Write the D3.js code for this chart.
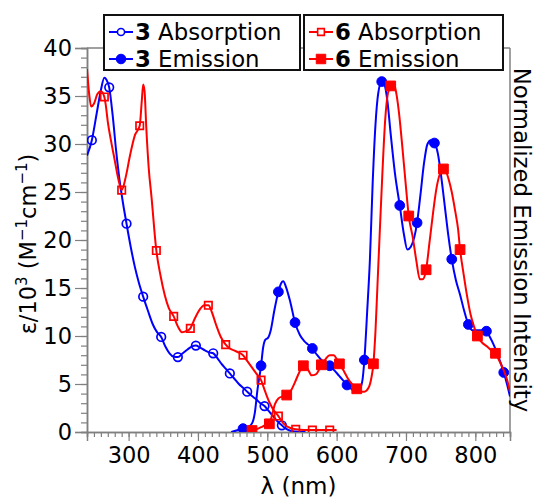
<!DOCTYPE html>
<html>
<head>
<meta charset="utf-8">
<script src="https://cdn.jsdelivr.net/npm/d3@7"></script>
<style>
  body { margin: 0; background: #fff; }
  text { font-family: "DejaVu Sans", sans-serif; }
</style>
</head>
<body>
<div id="chart"></div>
<script>
// wavelength (nm) vs value
var abs3 = [[240,28.8],[247,30.4],[254,33.2],[260,35.6],[265,36.9],[268,36.7],[272,35.9],[277,33],[282,29.3],[287,26.2],[292,23.8],[297,21.7],[303,19.3],[309,17.2],[315,15.5],[321,14.1],[328,12.6],[335,11.2],[341,10.4],[347,9.9],[353,8.9],[359,8.2],[365,7.85],[371,7.8],[378,8.2],[385,8.6],[391,8.9],[397,9.0],[403,8.8],[410,8.5],[416,8.3],[422,8.2],[428,7.7],[434,7.1],[440,6.6],[446,6.1],[452,5.6],[459,5.0],[465,4.6],[471,4.2],[477,3.8],[484,3.4],[490,3.0],[496,2.7],[502,2.2],[509,1.6],[515,1.1],[521,0.7],[528,0.3],[535,0.1],[545,0.02],[555,0]];
var abs3Marks = [247,272,297,321,347,371,397,422,446,471,496,521];

var em3 = [[448,0],[458,0.2],[465,0.35],[472,0.5],[478,0.9],[482,2.0],[486,4.5],[491,6.9],[494,8.8],[497,9.6],[501,9.8],[505,10.6],[510,12.6],[516,14.6],[520,15.5],[523,15.7],[527,15.1],[533,13.6],[540,11.4],[547,10.1],[553,9.5],[559,9.1],[565,8.7],[571,8.1],[578,7.5],[584,7.2],[590,6.9],[597,6.4],[603,5.9],[609,5.4],[615,4.9],[621,4.5],[627,4.2],[632,4.3],[637,5.3],[640,7.5],[644,12.5],[648,18],[652,26],[656,32],[660,35.3],[665,36.5],[669,36.2],[673,34.6],[678,31],[684,27],[691,23.6],[697,20.6],[702,19.0],[707,19.3],[716,21.8],[721,24.8],[726,28],[731,30],[736,30.4],[741,30.1],[746,29],[751,26.5],[756,23.5],[761,20.5],[766,18.0],[772,15.8],[778,14.3],[784,12.6],[790,11.2],[796,10.6],[803,10.6],[810,10.6],[816,10.5],[821,9.9],[827,9.0],[833,7.9],[841,6.2],[846,4.9],[850,3.7]];
var em3Marks = [465,491,516,540,565,590,615,640,665,691,716,741,766,790,816,841];

var abs6 = [[240,37.8],[243,35.3],[246,33.9],[250,34.2],[255,35.2],[260,35.5],[265,34.9],[267,34.1],[270,32.3],[275,30.2],[280,28.3],[285,26.4],[290,25.2],[296,26.6],[302,28.8],[309,30.9],[316,31.9],[319,34.5],[321,36.2],[323,35.5],[325.5,31.7],[329,27.5],[333,24.5],[340,18.9],[346,16.3],[352,14.3],[358,12.9],[365,12.05],[371,11.0],[377,10.4],[383,10.5],[389,10.8],[396,11.9],[403,12.8],[409,13.2],[415,13.2],[420,12.5],[426,11.2],[433,9.9],[440,9.1],[446,8.7],[452,8.5],[458,8.3],[465,8.0],[471,7.4],[478,6.7],[484,6.1],[491,5.4],[497,4.2],[503,3.1],[509,2.3],[516,1.66],[522,1.0],[528,0.6],[534,0.4],[541,0.28],[553,0.2],[565,0.2],[578,0.2],[590,0.2],[600,0.2]];
var abs6Marks = [265,290,316,340,365,389,415,440,465,491,516,541,565,590];

var em6 = [[472,0],[478,0.15],[485,0.3],[491,0.5],[497,0.7],[503,0.85],[507,1.8],[511,2.9],[516,3.5],[522,3.7],[528,3.85],[534,4.3],[540,5.2],[546,6.2],[552,6.9],[558,6.6],[564,5.9],[570,6.0],[574,6.4],[578,7.0],[584,7.6],[590,8.0],[596,8.0],[600,7.6],[604,7.1],[610,6.4],[616,5.6],[622,5.0],[629,4.5],[634,4.2],[640,4.2],[646,4.6],[650,5.6],[653,7.1],[656,10.5],[659,15.5],[662,20.5],[666,27],[670,32.5],[674,35.3],[678,36.05],[682,36.4],[686,35.3],[690,33.2],[695,29.5],[700,25.5],[704,22.5],[710,20.2],[715,17.8],[720,15.9],[724,15.9],[729,16.9],[734,19.8],[739,22.8],[744,25.4],[749,26.9],[754,27.4],[758,27.1],[762,26.2],[766,25],[771,23],[775,21.2],[778,19.0],[783,16.5],[788,14.2],[793,12.3],[798,11],[803,10],[810,9.3],[817,8.9],[823,8.5],[829,8.2],[834,7.5],[840,6.6],[846,5.4],[850,4.2]];
var em6Marks = [478,503,528,552,578,604,629,653,678,704,729,754,778,803,829];

var xMajor = [300,400,500,600,700,800];
var yMajor = [0,5,10,15,20,25,30,35,40];

var W = 538, H = 499;
var pLeft = 87, pRight = 510, pTop = 48, pBottom = 432;
var blue = "#0000ff", red = "#ff0000", axisGray = "#808080";

var svg = d3.select("#chart").append("svg")
  .attr("width", W).attr("height", H);

var x = d3.scaleLinear().domain([240, 850]).range([pLeft, pRight]);
var y = d3.scaleLinear().domain([0, 40]).range([pBottom, pTop]);

// frame top + right
svg.append("line").attr("x1", pLeft).attr("x2", pRight).attr("y1", pTop).attr("y2", pTop)
  .attr("stroke", axisGray).attr("stroke-width", 1.5);
svg.append("line").attr("x1", pRight).attr("x2", pRight).attr("y1", pTop).attr("y2", pBottom)
  .attr("stroke", axisGray).attr("stroke-width", 1.5);

// x axis
var xMinor = svg.append("g").attr("transform", "translate(0," + pBottom + ")")
  .call(d3.axisBottom(x).tickValues(d3.range(240, 851, 10)).tickSize(5).tickFormat(""));
var xAx = svg.append("g").attr("transform", "translate(0," + pBottom + ")")
  .call(d3.axisBottom(x).tickValues(xMajor).tickSize(9).tickPadding(6).tickFormat(d3.format("d")));

// y axis
var yMinor = svg.append("g").attr("transform", "translate(" + pLeft + ",0)")
  .call(d3.axisLeft(y).tickValues(d3.range(0, 41, 1)).tickSize(6).tickFormat(""));
var yAx = svg.append("g").attr("transform", "translate(" + pLeft + ",0)")
  .call(d3.axisLeft(y).tickValues(yMajor).tickSize(12).tickPadding(3).tickFormat(d3.format("d")));

[xMinor, xAx, yMinor, yAx].forEach(function (g) {
  g.selectAll("path.domain").attr("stroke", axisGray).attr("stroke-width", 1.5);
  g.selectAll(".tick line").attr("stroke", axisGray).attr("stroke-width", 1.2);
  g.selectAll(".tick text").attr("fill", "#000").style("font-size", "22.5px")
    .style("font-family", "DejaVu Sans");
});

// clip for curves
svg.append("clipPath").attr("id", "plotclip").append("rect")
  .attr("x", pLeft).attr("y", pTop - 10).attr("width", pRight - pLeft).attr("height", pBottom - pTop + 10);

var line = d3.line()
  .x(function (d) { return x(d[0]); })
  .y(function (d) { return y(d[1]); })
  .curve(d3.curveMonotoneX);

var plot = svg.append("g").attr("clip-path", "url(#plotclip)");

function drawSeries(data, marks, color, shape, filled) {
  plot.append("path").datum(data)
    .attr("d", line)
    .attr("fill", "none").attr("stroke", color).attr("stroke-width", 2);
  var pts = data.filter(function (d) { return marks.indexOf(d[0]) >= 0; });
  var sym = d3.symbol().type(shape === "circle" ? d3.symbolCircle : d3.symbolSquare)
    .size(shape === "circle" ? (filled ? 75 : 58) : (filled ? 95 : 55));
  plot.selectAll(null).data(pts).enter().append("path")
    .attr("d", sym)
    .attr("transform", function (d) { return "translate(" + x(d[0]) + "," + y(d[1]) + ")"; })
    .attr("fill", filled ? color : "#fff")
    .attr("fill-opacity", filled ? 1 : 0)
    .attr("stroke", color).attr("stroke-width", filled ? 1 : 1.7);
}

drawSeries(abs3, abs3Marks, blue, "circle", false);
drawSeries(em3, em3Marks, blue, "circle", true);
drawSeries(abs6, abs6Marks, red, "square", false);
drawSeries(em6, em6Marks, red, "square", true);

// axis titles
svg.append("text").attr("x", (pLeft + pRight) / 2).attr("y", 494)
  .attr("text-anchor", "middle").style("font-size", "23px").text("λ (nm)");

var yl = svg.append("text")
  .attr("transform", "translate(36,244) rotate(-90)")
  .attr("text-anchor", "middle").style("font-size", "22.5px");
yl.append("tspan").text("ε/10");
yl.append("tspan").attr("dy", -9).style("font-size", "15px").text("3");
yl.append("tspan").attr("dy", 9).text(" (M");
yl.append("tspan").attr("dy", -9).style("font-size", "15px").text("−1");
yl.append("tspan").attr("dy", 9).text("cm");
yl.append("tspan").attr("dy", -9).style("font-size", "15px").text("−1");
yl.append("tspan").attr("dy", 9).text(")");

svg.append("text")
  .attr("transform", "translate(514,240) rotate(90)")
  .attr("text-anchor", "middle").style("font-size", "22.8px")
  .text("Normalized Emission Intensity");

// legends
var legends = [
  { x: 104, w: 196, num: "3", color: blue, shape: "circle",
    rows: ["Absorption", "Emission"] },
  { x: 304, w: 199, num: "6", color: red, shape: "square",
    rows: ["Absorption", "Emission"] }
];
legends.forEach(function (L) {
  var g = svg.append("g");
  g.append("rect").attr("x", L.x).attr("y", 15).attr("width", L.w).attr("height", 55)
    .attr("fill", "#fff").attr("stroke", "#111").attr("stroke-width", 2);
  L.rows.forEach(function (label, i) {
    var cy = 32 + i * 27;
    var filled = i === 1;
    g.append("line").attr("x1", L.x + 5).attr("x2", L.x + 29).attr("y1", cy).attr("y2", cy)
      .attr("stroke", L.color).attr("stroke-width", 2);
    var sym = d3.symbol().type(L.shape === "circle" ? d3.symbolCircle : d3.symbolSquare)
      .size(L.shape === "circle" ? (filled ? 72 : 40) : (filled ? 90 : 45));
    g.append("path").attr("d", sym)
      .attr("transform", "translate(" + (L.x + 17) + "," + cy + ")")
      .attr("fill", filled ? L.color : "#fff").attr("stroke", L.color)
      .attr("stroke-width", filled ? 1 : 1.6);
    var t = g.append("text").attr("x", L.x + 31).attr("y", cy + 8).style("font-size", "22.8px");
    t.append("tspan").style("font-weight", "bold").text(L.num);
    t.append("tspan").text(" " + label);
  });
});
</script>
</body>
</html>
